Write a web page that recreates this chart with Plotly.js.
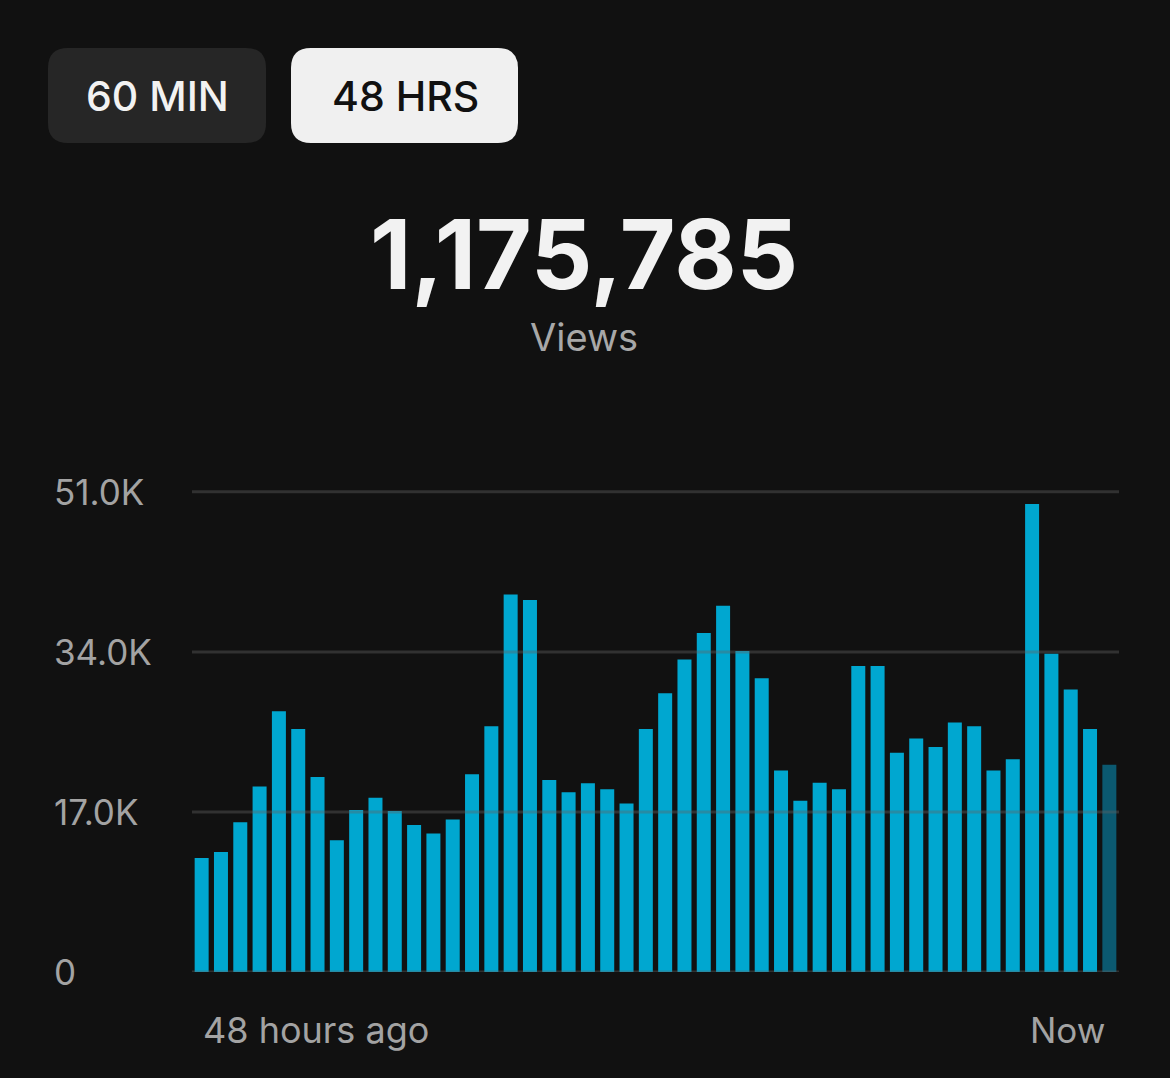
<!DOCTYPE html>
<html>
<head>
<meta charset="utf-8">
<script src="https://cdn.plot.ly/plotly-3.0.1.min.js"></script>
<style>
  html, body { margin: 0; padding: 0; background: #111111; }
  #chart { width: 1170px; height: 1078px; }
</style>
</head>
<body>
<div id="chart"></div>
<script>
// ---- data ----
const hourIndex = [];
for (let i = 0; i < 48; i++) hourIndex.push(i);
const views = [
  12100, 12750, 15900, 19700, 27700, 25800, 20700, 14000, 17200, 18500,
  17100, 15600, 14700, 16200, 21000, 26100, 40100, 39500, 20400, 19100,
  20050, 19400, 17900, 25800, 29600, 33200, 36000, 38900, 34100, 31200,
  21400, 18200, 20100, 19400, 32500, 32500, 23300, 24800, 23900, 26500,
  26100, 21400, 22600, 49700, 33800, 30000, 25800, 22000
];
const yTickVals = [0, 17000, 34000, 51000];
const yTickText = ['0', '17.0K', '34.0K', '51.0K'];
const xEndLabels = ['48 hours ago', 'Now'];
const totalViews = '1,175,785';
const totalLabel = 'Views';
const rangeButtons = ['60 MIN', '48 HRS'];

// ---- geometry helpers (page pixels -> paper) ----
const W = 1170, H = 1078;
const M = { l: 192, r: 51, t: 473, b: 106 };
const PW = W - M.l - M.r, PH = H - M.t - M.b;
const px = x => (x - M.l) / PW;
const py = y => (H - M.b - y) / PH;

function roundRect(x0, y0, x1, y1, r) {
  const X0 = px(x0), X1 = px(x1), Y0 = py(y0), Y1 = py(y1);
  const rx = r / PW, ry = r / PH;
  return `M ${X0 + rx} ${Y0} L ${X1 - rx} ${Y0} Q ${X1} ${Y0} ${X1} ${Y0 - ry} ` +
         `L ${X1} ${Y1 + ry} Q ${X1} ${Y1} ${X1 - rx} ${Y1} L ${X0 + rx} ${Y1} ` +
         `Q ${X0} ${Y1} ${X0} ${Y1 + ry} L ${X0} ${Y0 - ry} Q ${X0} ${Y0} ${X0 + rx} ${Y0} Z`;
}

const barColors = views.map((v, i) => i === views.length - 1 ? '#0b5970' : '#00a7d0');

const trace = {
  type: 'bar',
  x: hourIndex,
  y: views,
  marker: { color: barColors, line: { width: 0 } },
  hoverinfo: 'skip'
};

const FONT = 'Inter, "Noto Sans", "DejaVu Sans", sans-serif';

const shapes = [];
yTickVals.forEach(v => {
  shapes.push({
    type: 'line', xref: 'paper', yref: 'y', x0: 0, x1: 1, y0: v, y1: v,
    line: { color: 'rgba(97,97,97,0.4)', width: 3 }, layer: 'above'
  });
});
shapes.push({
  type: 'path', xref: 'paper', yref: 'paper', path: roundRect(48, 48, 266, 143, 20),
  fillcolor: '#262626', line: { width: 0 }, layer: 'below'
});
shapes.push({
  type: 'path', xref: 'paper', yref: 'paper', path: roundRect(291, 48, 518, 143, 20),
  fillcolor: '#f0f0f0', line: { width: 0 }, layer: 'below'
});

const annotations = [];
yTickVals.forEach((v, i) => {
  annotations.push({
    xref: 'paper', yref: 'y', x: px(52), y: v, xanchor: 'left', yanchor: 'middle',
    text: yTickText[i], showarrow: false,
    font: { family: FONT, size: 35, color: '#a3a3a3' }
  });
});
annotations.push({
  xref: 'paper', yref: 'paper', x: px(201), y: py(1030), xanchor: 'left', yanchor: 'middle',
  text: xEndLabels[0], showarrow: false, font: { family: FONT, size: 36, color: '#a3a3a3' }
});
annotations.push({
  xref: 'paper', yref: 'paper', x: px(1107), y: py(1030), xanchor: 'right', yanchor: 'middle',
  text: xEndLabels[1], showarrow: false, font: { family: FONT, size: 35, color: '#a3a3a3' }
});
annotations.push({
  xref: 'paper', yref: 'paper', x: px(584), y: py(337), xanchor: 'center', yanchor: 'middle',
  text: totalLabel, showarrow: false, font: { family: FONT, size: 38, color: '#a8a8a8' }
});
annotations.push({
  xref: 'paper', yref: 'paper', x: px(157), y: py(96), xanchor: 'center', yanchor: 'middle',
  text: rangeButtons[0], showarrow: false, font: { family: FONT, size: 41, color: '#f2f2f2', weight: 500 }
});
annotations.push({
  xref: 'paper', yref: 'paper', x: px(405), y: py(96), xanchor: 'center', yanchor: 'middle',
  text: rangeButtons[1], showarrow: false, font: { family: FONT, size: 41, color: '#111111', weight: 500 }
});

const layout = {
  width: W, height: H,
  margin: M,
  paper_bgcolor: '#111111',
  plot_bgcolor: '#111111',
  showlegend: false,
  bargap: 0.275,
  title: {
    text: '<b>' + totalViews + '</b>',
    x: 584 / W, xref: 'container', xanchor: 'center',
    y: 1 - 255 / H, yref: 'container', yanchor: 'middle',
    font: { family: FONT, size: 96, color: '#f2f2f2' }
  },
  xaxis: {
    range: [-0.5, 47.5], showgrid: false, zeroline: false, showticklabels: false,
    showline: false, ticks: '', fixedrange: true
  },
  yaxis: {
    range: [0, 53000], showgrid: false, zeroline: false, showticklabels: false,
    showline: false, ticks: '', fixedrange: true
  },
  shapes: shapes,
  annotations: annotations
};

Plotly.newPlot('chart', [trace], layout, { staticPlot: true, displayModeBar: false });
</script>
</body>
</html>
